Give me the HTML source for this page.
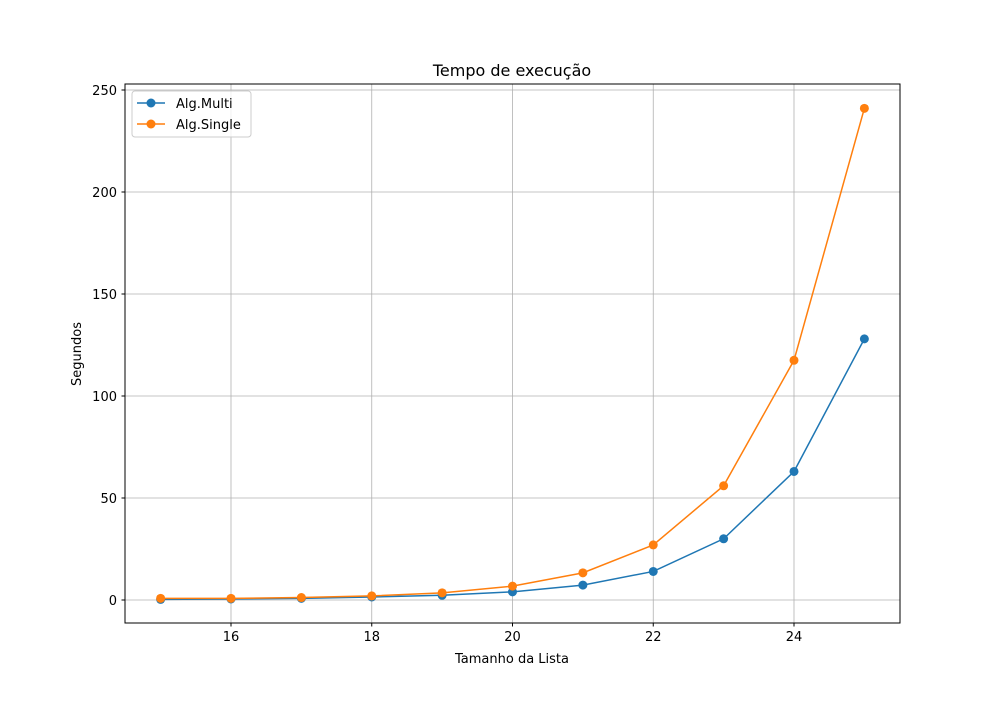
<!DOCTYPE html>
<html><head><meta charset="utf-8"><style>
body{margin:0;background:#fff;}
svg{font-family:"DejaVu Sans","Liberation Sans",sans-serif;}
</style></head><body>
<svg id="chart" width="1000" height="700">
<rect width="1000" height="700" fill="#fff"/>
<g id="grid"></g>
<g id="ticks"></g>
<g id="series"></g>
<rect x="125" y="84" width="775" height="539" fill="none" stroke="#000" stroke-width="1"/>
<text x="512" y="76" font-size="16" text-anchor="middle">Tempo de execução</text>
<text x="512" y="663" font-size="13" text-anchor="middle">Tamanho da Lista</text>
<text x="81" y="354" font-size="13" text-anchor="middle" transform="rotate(-90 81 354)">Segundos</text>
<g>
<rect x="132" y="91" width="119" height="46" rx="3" fill="#fff" fill-opacity="0.8" stroke="#ccc"/>
<g>
<line x1="137" y1="103" x2="165" y2="103" stroke="#1f77b4" stroke-width="1.5"/><circle cx="151" cy="103" r="4.5" fill="#1f77b4"/>
<text x="176" y="108" font-size="13">Alg.Multi</text></g>
<g>
<line x1="137" y1="124" x2="165" y2="124" stroke="#ff7f0e" stroke-width="1.5"/><circle cx="151" cy="124" r="4.5" fill="#ff7f0e"/>
<text x="176" y="129" font-size="13">Alg.Single</text></g>
</g>
</svg>
<script>
const sizes=[15,16,17,18,19,20,21,22,23,24,25];
const multiValues=[0.3,0.5,0.8,1.5,2.3,4,7.3,14,30,63,128];
const singleValues=[0.8,0.8,1.2,2,3.5,6.8,13.3,27,56,117.5,241];
const xTicks=[16,18,20,22,24];
const yTicks=[0,50,100,150,200,250];
const xs=v=>231+(v-16)*70.375;
const ys=v=>600-v*2.04;
const NS='http://www.w3.org/2000/svg';
function mk(tag,attrs,parent){const e=document.createElementNS(NS,tag);for(const k in attrs)e.setAttribute(k,attrs[k]);parent.appendChild(e);return e;}
const grid=document.getElementById('grid'),ticks=document.getElementById('ticks'),series=document.getElementById('series');
xTicks.forEach(t=>{const x=xs(t);
const g=mk('line',{x1:x,x2:x,y1:84,y2:623,stroke:'#b0b0b0','stroke-width':0.8},grid);


mk('line',{x1:x,x2:x,y1:623,y2:626.5,stroke:'#000'},ticks);
const l=mk('text',{x:x,y:641,'font-size':13,'text-anchor':'middle'},ticks);l.textContent=t;

});
yTicks.forEach(t=>{const y=ys(t);
const g=mk('line',{x1:125,x2:900,y1:y,y2:y,stroke:'#b0b0b0','stroke-width':0.8},grid);


mk('line',{x1:121.5,x2:125,y1:y,y2:y,stroke:'#000'},ticks);
const l=mk('text',{x:117,y:y+5,'font-size':13,'text-anchor':'end'},ticks);l.textContent=t;

});
[[multiValues,'#1f77b4','multi'],[singleValues,'#ff7f0e','single']].forEach(([vals,c,n])=>{
const p=mk('polyline',{points:vals.map((v,i)=>xs(sizes[i])+','+ys(v)).join(' '),fill:'none',stroke:c,'stroke-width':1.5},series);


vals.forEach((v,i)=>{const pt=mk('circle',{cx:xs(sizes[i]),cy:ys(v),r:4.5,fill:c},series);

});});
</script>
</body></html>
